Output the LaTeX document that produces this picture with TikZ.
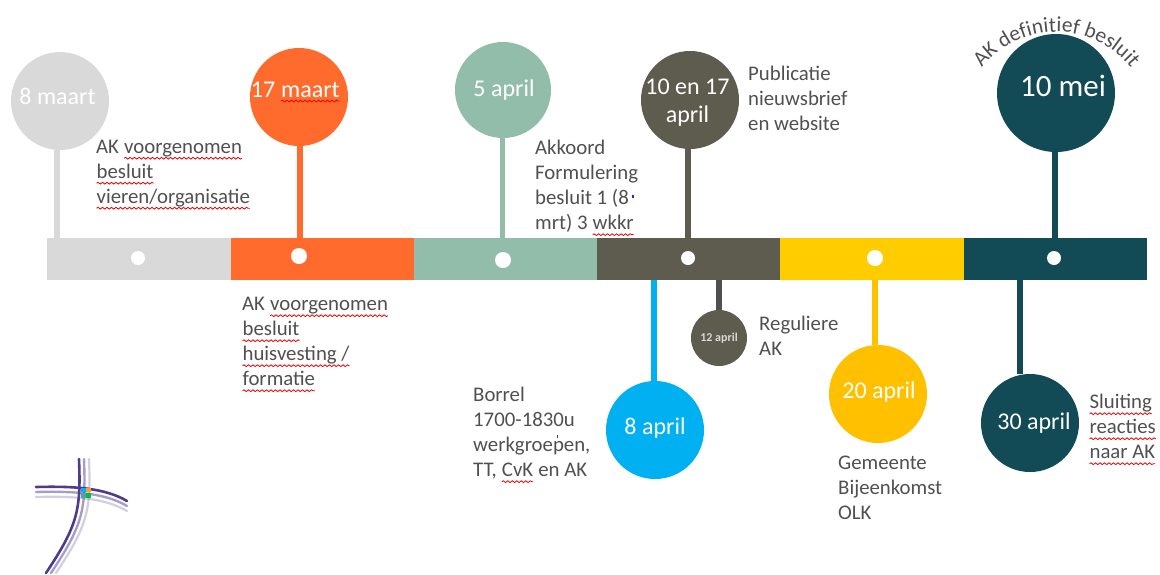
\documentclass[tikz,border=0pt]{standalone}
\usepackage{fontspec}
\setmainfont{Carlito}
\usetikzlibrary{decorations.pathmorphing,decorations.text}
\definecolor{cgrey}{HTML}{D9D9D9}
\definecolor{corange}{HTML}{FF6B2D}
\definecolor{cteal}{HTML}{93BDAB}
\definecolor{colive}{HTML}{5E5C4E}
\definecolor{cyellow}{HTML}{FFCC00}
\definecolor{camber}{HTML}{FFC000}
\definecolor{cdark}{HTML}{124A55}
\definecolor{ccyan}{HTML}{00B0F0}
\definecolor{ctext}{HTML}{505050}
\definecolor{cpurple}{HTML}{4F3B8E}
\tikzset{
  x=1pt,y=1pt,
  seg/.style={fill=#1,minimum width=184pt,minimum height=42pt,inner sep=0pt,outer sep=0pt,anchor=north west},
  dot/.style={circle,fill=white,minimum size=#1,inner sep=0pt},
  bub/.style 2 args={circle,fill=#1,minimum size=#2,inner sep=0pt,text=white,align=center},
  date/.style={text=white,inner sep=0pt,font=\fontsize{24}{28}\selectfont,align=center},
  stem/.style={draw=#1,line width=6pt},
  lab/.style={text=ctext,font=\fontsize{20.8}{25}\selectfont,align=left,anchor=north west,inner sep=0pt},
  squig/.style={draw=red!90!black,line width=.8pt,decorate,decoration={snake,amplitude=.9pt,segment length=4.5pt}},
  logo/.style={draw=cpurple,line width=#1,line cap=round},
}
\newcommand\sq[1]{\tikz[baseline=(t.base)]{\node[inner sep=0pt,outer sep=0pt,anchor=base,text=ctext](t){\strut #1};\draw[squig]([yshift=-5pt]t.base west)--([yshift=-5pt]t.base east);}}
\begin{document}
\begin{tikzpicture}
\useasboundingbox (0,-574) rectangle (1160,0);
% bar
\node[seg=cgrey]  (s1) at (47,-238) {};
\node[seg=corange,minimum width=183pt](s2) at (231,-238) {};
\node[seg=cteal,minimum width=183pt]  (s3) at (414,-238) {};
\node[seg=colive,minimum width=183pt] (s4) at (597,-238) {};
\node[seg=cyellow]  (s5) at (780,-238) {};
\node[seg=cdark,minimum width=183pt]  (s6) at (964,-238) {};
% dots
\node[dot=14pt] (d1) at (138,-258) {};
\node[dot=16pt] (d2) at (299,-256) {};
\node[dot=16pt] (d3) at (503,-260) {};
\node[dot=14pt] (d4) at (688,-258) {};
\node[dot=16pt] (d5) at (875,-258) {};
\node[dot=14pt] (d6) at (1054,-258) {};
% anchors of stems on the bar
\coordinate (a1) at (57,-238);
\coordinate (a2) at (300,-238);
\coordinate (a3) at (502,-238);
\coordinate (a4) at (688,-238);
\coordinate (a5) at (1055,-238);
\coordinate (b1) at (654,-280);
\coordinate (b2) at (719,-280);
\coordinate (b3) at (875,-280);
\coordinate (b4) at (1020,-280);
% bubbles
\node[bub={cgrey}{98pt}] (c1) at (60,-101) {};
\node[date] (c1t) at (57.5,-96) {8 maart};
\node[bub={corange}{98pt}] (c2) at (299,-97) {};
\node[date] (c2t) at (295.5,-92) {17 \tikz[baseline=(t.base)]{\node[inner sep=0pt,outer sep=0pt,anchor=base,text=white](t){maart};\draw[squig]([yshift=-4pt]t.base west)--([yshift=-4pt]t.base east);}};
\node[bub={cteal}{96pt}] (c3) at (503,-90) {};
\node[date] (c3t) at (504,-90) {5 april};
\node[bub={colive}{98pt}] (c4) at (690,-100) {};
\node[date] (c4t) at (687.5,-103) {10 en 17\\april};
\node[bub={cdark}{118pt}] (c5) at (1056,-93) {};
\node[date,font=\fontsize{31}{34}\selectfont] (c5t) at (1063,-86) {10 mei};
\node[bub={ccyan}{98pt}] (e1) at (655,-430) {};
\node[date] (e1t) at (655,-428) {8 april};
\node[bub={colive}{56pt},font=\bfseries\fontsize{12}{14}\selectfont] (e2) at (719,-338) {\textcolor{white!85!black}{12 april}};
\node[bub={camber}{98pt}] (e3) at (878,-394) {};
\node[date] (e3t) at (879,-392) {20 april};
\node[bub={cdark}{98pt}] (e4) at (1030,-423) {};
\node[date] (e4t) at (1034,-423) {30 april};
% stems
\draw[stem=cgrey] (a1) -- (a1 |- c1.south);
\draw[stem=corange] (a2) -- (a2 |- c2.south);
\draw[stem=cteal,line width=5pt] (a3) -- (a3 |- c3.south);
\draw[stem=colive] (a4) -- (a4 |- c4.south);
\draw[stem=cdark] (a5) -- (a5 |- c5.south);
\draw[stem=ccyan] (b1) -- (b1 |- e1.north);
\draw[stem=ctext] (b2) -- (b2 |- e2.north);
\draw[stem=camber] (b3) -- (b3 |- e3.north);
\draw[stem=cdark] (b4) -- (b4 |- e4.north);
% arc text
\path[decorate,decoration={text along path,text align=center,text={|\fontsize{21.5}{25}\selectfont\color{ctext}|AK definitief besluit}}]
  (1056.5,-127) ++(150:95) arc (150:30:95);
% labels
\node[lab] (l1) at (96,-135.5) {AK \sq{voorgenomen}\\\sq{besluit}\\\sq{vieren/organisatie}};
\node[lab] (l2) at (242,-293) {AK \sq{voorgenomen}\\\sq{besluit}\\\sq{huisvesting /}\\\sq{formatie}};
\node[lab] (l3) at (535,-140) {Akkoord\\Formulering\\besluit 1 (8\\mrt) 3 \sq{wkkr}};
\node[lab] (l4) at (748,-66) {Publicatie\\nieuwsbrief\\en website};
\node[lab] (l5) at (473,-387) {Borrel\\1700-1830u\\werkgroepen,\\TT, \sq{CvK} en AK};
\node[lab] (l6) at (759,-316) {Reguliere\\AK};
\node[lab] (l7) at (838,-455.5) {Gemeente\\Bijeenkomst\\OLK};
\node[lab] (l8) at (1089,-391) {\sq{Sluiting}\\\sq{reacties}\\\sq{naar AK}};
% specks
\fill[blue!85!white] (632,-195) rectangle (633.5,-198);
\fill[blue!85!white] (556.5,-435) rectangle (558,-438);
% logo
\foreach \o/\w/\c in {10/2.2pt/25,5/2.4pt/50,0/2.6pt/100}{
  \draw[logo=\w,draw opacity=\c/100] (79+\o,-459) .. controls (81+\o,-510) and (78+\o,-525) .. (46+\o,-573);
  \draw[logo=\w,draw opacity=\c/100] (36,-487-\o) .. controls (75,-486-\o) and (105,-488-\o) .. (127,-501-\o);
}
\fill[ccyan] (81,-492) rectangle (86,-488);
\fill[orange!80] (86,-492) rectangle (91,-488);
\fill[teal!70] (81,-498) rectangle (86,-493);
\fill[green!50!teal] (86,-498) rectangle (91,-493);
\end{tikzpicture}
\end{document}
